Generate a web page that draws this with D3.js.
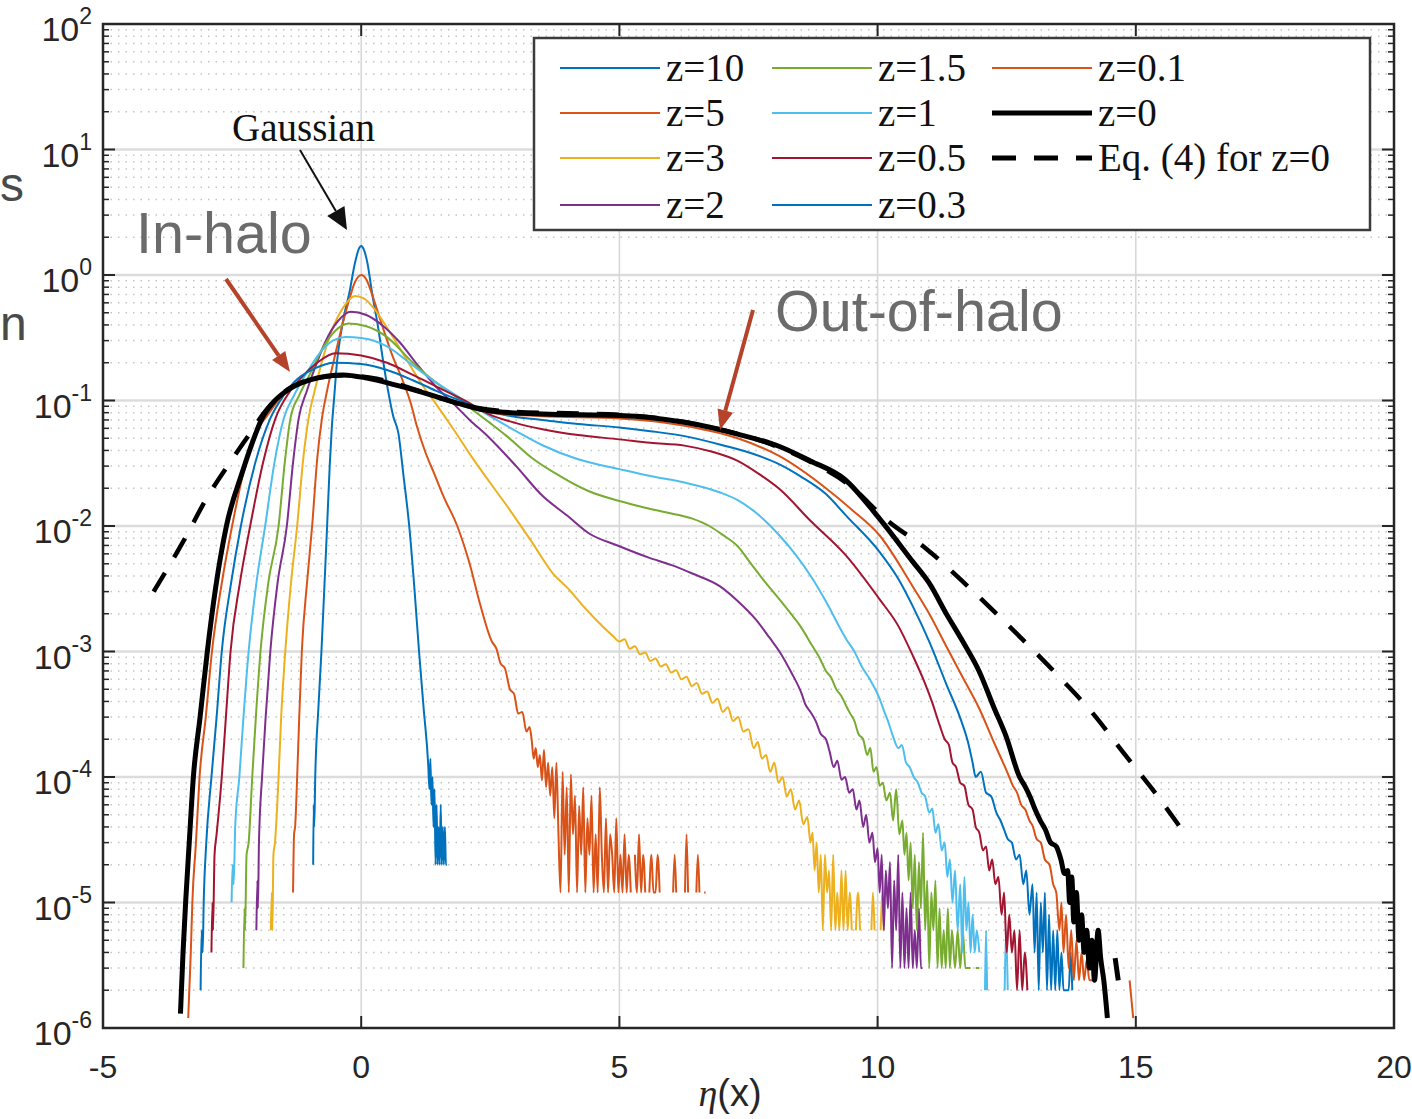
<!DOCTYPE html>
<html><head><meta charset="utf-8">
<script src="https://cdn.jsdelivr.net/npm/d3@7"></script>
<style>body{margin:0;background:#fff;}svg{display:block;}</style>
</head><body>
<svg id="c" width="1412" height="1119"></svg>
<script>
// ---------- data ----------
const xTicks = [-5, 0, 5, 10, 15, 20];
const yExps = [-6, -5, -4, -3, -2, -1, 0, 1, 2];
const legendLabels = ["z=10","z=5","z=3","z=2","z=1.5","z=1","z=0.5","z=0.3","z=0.1","z=0","Eq. (4) for z=0"];

const z10 = [[-0.93,2e-5],[-0.92,6e-5],[-0.91,4e-5],[-0.89,1e-4],[-0.83,3.5e-4],[-0.77,1e-3],[-0.71,3.5e-3],[-0.66,0.01],[-0.61,0.03],[-0.57,0.06],[-0.52,0.11],[-0.47,0.2],[-0.4,0.33],[-0.32,0.5],[-0.23,0.72],[-0.12,1.25],[-0.05,1.6],[0,1.7],[0.05,1.6],[0.12,1.25],[0.21,0.72],[0.32,0.4],[0.43,0.2],[0.52,0.12],[0.62,0.075],[0.72,0.055],[0.82,0.025],[0.93,0.01],[1.03,3.2e-3],[1.12,1e-3],[1.21,3.5e-4],[1.3,1.2e-4],[1.32,8e-5],[1.34,1.4e-4],[1.36,6e-5],[1.38,1e-4],[1.40,4e-5],[1.42,8e-5],[1.44,2e-5],[1.46,6e-5],[1.48,2e-5],[1.50,4e-5],[1.52,2e-5],[1.54,6e-5],[1.56,2e-5],[1.58,4e-5],[1.60,2e-5],[1.62,4e-5],[1.64,2e-5],[1.66,2e-5]];

const z5 = [[-1.32,1.2e-5],[-1.30,3.5e-5],[-1.28,4e-5],[-1.24,1e-4],[-1.2,3e-4],[-1.15,1e-3],[-1.05,3.5e-3],[-0.95,0.01],[-0.85,0.035],[-0.76,0.072],[-0.66,0.12],[-0.54,0.2],[-0.4,0.35],[-0.25,0.6],[-0.12,0.88],[0,1.0],[0.1,0.92],[0.2,0.72],[0.3,0.54],[0.43,0.37],[0.6,0.23],[0.79,0.149],[0.96,0.095],[1.08,0.062],[1.25,0.038],[1.4,0.027],[1.6,0.017],[1.86,0.01],[2.1,5e-3],[2.3,2.4e-3],[2.53,1.2e-3],[2.62,1.05e-3],[2.7,8e-4],[2.78,7.4e-4],[2.88,5e-4],[2.96,4.6e-4],[3.04,3.2e-4],[3.12,3.3e-4],[3.2,2.3e-4],[3.26,2.5e-4],[3.30,2e-4],[3.34,1.4e-4],[3.38,1.7e-4],[3.42,1.2e-4],[3.46,1.5e-4],[3.50,9.4e-5],[3.54,1.65e-4],[3.58,8.3e-5],[3.62,1.3e-4],[3.66,7.1e-5],[3.70,1.2e-4],[3.74,4.7e-5],[3.78,1.3e-4],[3.82,3.5e-5],[3.86,1.2e-5],[3.90,1.1e-4],[3.94,2.4e-5],[3.98,8.3e-5],[4.02,1.2e-5],[4.06,1.05e-4],[4.10,3.5e-5],[4.14,7.1e-5],[4.18,1.2e-5],[4.22,5.9e-5],[4.26,2.4e-5],[4.30,8.3e-5],[4.34,1.2e-5],[4.38,4.7e-5],[4.42,2.4e-5],[4.46,7.1e-5],[4.50,1.2e-5],[4.54,3.5e-5],[4.58,1.2e-5],[4.62,8.3e-5],[4.66,2.4e-5],[4.70,1.2e-5],[4.74,4.7e-5],[4.78,1.2e-5],[4.82,3.5e-5],[4.86,2.4e-5],[4.90,1.2e-5],[4.94,4.7e-5],[4.98,1.2e-5],[5.02,2.4e-5],[5.06,1.2e-5],[5.10,3.5e-5],[5.14,1.2e-5],[5.18,2.4e-5],[5.22,1.2e-5],[5.26,null],[5.30,2.4e-5],[5.34,1.2e-5],[5.38,3.5e-5],[5.42,1.2e-5],[5.46,2.4e-5],[5.50,1.2e-5],[5.54,null],[5.58,1.2e-5],[5.62,2.4e-5],[5.66,1.2e-5],[5.70,1.2e-5],[5.74,2.4e-5],[5.78,1.2e-5],[5.82,null],[6.04,1.2e-5],[6.07,2.4e-5],[6.10,1.2e-5],[6.15,null],[6.27,1.2e-5],[6.30,3.5e-5],[6.33,1.2e-5],[6.40,null],[6.49,1.2e-5],[6.52,2.4e-5],[6.55,1.2e-5],[6.60,null],[6.64,1.2e-5],[6.67,1.2e-5]];

const z3 = [[-1.75,6e-6],[-1.73,1.2e-5],[-1.72,6e-6],[-1.70,2.4e-5],[-1.67,3e-5],[-1.6,1e-4],[-1.55,3e-4],[-1.47,1e-3],[-1.36,3.5e-3],[-1.24,0.01],[-1.12,0.035],[-1.02,0.072],[-0.9,0.12],[-0.78,0.19],[-0.55,0.38],[-0.35,0.55],[-0.12,0.68],[0.05,0.65],[0.25,0.54],[0.5,0.38],[0.75,0.26],[1.0,0.175],[1.2,0.13],[1.44,0.095],[1.8,0.058],[2.13,0.036],[2.5,0.022],[2.82,0.0145],[3.3,7.5e-3],[3.71,4.2e-3],[4.0,3.2e-3],[4.3,2.3e-3],[4.6,1.7e-3],[4.88,1.32e-3],[5.0,1.2e-3],[5.1,1.25e-3],[5.2,1.05e-3],[5.3,1.1e-3],[5.4,9.5e-4],[5.5,9.8e-4],[5.6,8.4e-4],[5.7,8.8e-4],[5.8,7.6e-4],[5.9,7.9e-4],[6.0,6.8e-4],[6.1,7.1e-4],[6.2,6e-4],[6.3,6.3e-4],[6.4,5.3e-4],[6.5,5.6e-4],[6.6,4.6e-4],[6.7,4.8e-4],[6.8,3.9e-4],[6.9,4.2e-4],[7.0,3.3e-4],[7.1,3.6e-4],[7.2,2.8e-4],[7.3,3.0e-4],[7.4,2.3e-4],[7.5,2.4e-4],[7.6,1.7e-4],[7.68,1.9e-4],[7.76,1.4e-4],[7.84,1.5e-4],[7.92,1.1e-4],[8.0,1.3e-4],[8.08,9e-5],[8.16,1e-4],[8.24,7e-5],[8.32,8e-5],[8.40,5.5e-5],[8.48,6.5e-5],[8.56,4.2e-5],[8.64,4.8e-5],[8.70,3e-5],[8.74,3.6e-5],[8.78,1.8e-5],[8.82,3e-5],[8.86,1.2e-5],[8.90,2.4e-5],[8.94,6e-6],[8.98,2.4e-5],[9.02,1.2e-5],[9.06,1.8e-5],[9.10,6e-6],[9.14,2.4e-5],[9.18,6e-6],[9.22,1.2e-5],[9.26,6e-6],[9.30,1.8e-5],[9.34,6e-6],[9.38,1.8e-5],[9.42,6e-6],[9.46,1.2e-5],[9.50,6e-6],[9.54,null],[9.58,6e-6],[9.62,1.2e-5],[9.66,6e-6],[9.7,null],[9.88,6e-6],[9.91,1.2e-5],[9.94,6e-6],[9.98,null],[10.06,6e-6],[10.09,1.2e-5],[10.12,6e-6]];

const z2 = [[-2.03,6e-6],[-2.01,1.5e-5],[-2.0,9e-6],[-1.98,3e-5],[-1.92,1e-4],[-1.85,3e-4],[-1.76,1e-3],[-1.62,3.5e-3],[-1.44,0.01],[-1.32,0.032],[-1.21,0.072],[-1.05,0.12],[-0.9,0.18],[-0.7,0.29],[-0.45,0.43],[-0.2,0.51],[0.1,0.48],[0.4,0.4],[0.75,0.29],[1.1,0.19],[1.44,0.13],[1.79,0.094],[2.1,0.07],[2.47,0.051],[3.0,0.03],[3.51,0.0174],[4.0,0.012],[4.4,8.8e-3],[5.0,6.9e-3],[5.57,5.6e-3],[6.0,4.9e-3],[6.4,4.2e-3],[6.95,3.3e-3],[7.3,2.5e-3],[7.64,1.8e-3],[7.9,1.3e-3],[8.12,9.7e-4],[8.33,6.8e-4],[8.53,4.6e-4],[8.6,3.8e-4],[8.7,3.3e-4],[8.8,2.8e-4],[8.9,2.2e-4],[9.0,2e-4],[9.07,1.6e-4],[9.15,1.2e-4],[9.22,1.35e-4],[9.3,9.5e-5],[9.37,1e-4],[9.45,7.5e-5],[9.52,8e-5],[9.59,5.5e-5],[9.65,6.5e-5],[9.72,4e-5],[9.78,5e-5],[9.84,3e-5],[9.90,3.6e-5],[9.95,2.1e-5],[10.0,2.7e-5],[10.04,1.2e-5],[10.08,2.4e-5],[10.12,6e-6],[10.16,1.8e-5],[10.2,9e-6],[10.24,2.1e-5],[10.28,3e-6],[10.32,1.5e-5],[10.36,6e-6],[10.4,2.4e-5],[10.44,3e-6],[10.48,1.2e-5],[10.52,3e-6],[10.56,9e-6],[10.6,3e-6],[10.64,1.2e-5],[10.68,3e-6],[10.72,6e-6],[10.76,3e-6],[10.8,9e-6],[10.84,3e-6],[10.87,3e-6]];

const z15 = [[-2.28,3e-6],[-2.26,9e-6],[-2.25,6e-6],[-2.22,2.4e-5],[-2.18,3e-5],[-2.11,1e-4],[-2.04,3e-4],[-1.95,1e-3],[-1.8,3.5e-3],[-1.6,0.01],[-1.48,0.032],[-1.37,0.072],[-1.2,0.11],[-1.0,0.16],[-0.75,0.26],[-0.5,0.36],[-0.24,0.41],[0.1,0.39],[0.5,0.32],[1.0,0.2],[1.44,0.14],[1.8,0.11],[2.13,0.086],[2.5,0.066],[2.82,0.052],[3.3,0.035],[3.85,0.025],[4.4,0.019],[5.0,0.0158],[5.5,0.014],[5.92,0.0128],[6.4,0.0115],[6.74,0.01],[7.0,8.5e-3],[7.29,6.9e-3],[7.55,5e-3],[7.84,3.5e-3],[8.1,2.6e-3],[8.32,2e-3],[8.5,1.6e-3],[8.74,1.1e-3],[8.87,9e-4],[9.0,7e-4],[9.1,6.2e-4],[9.2,5e-4],[9.3,4.4e-4],[9.39,3.7e-4],[9.47,3.2e-4],[9.55,2.8e-4],[9.63,2.2e-4],[9.72,2e-4],[9.8,1.5e-4],[9.86,1.7e-4],[9.92,1.1e-4],[9.98,1.2e-4],[10.04,8.5e-5],[10.1,9e-5],[10.17,6.5e-5],[10.24,7.5e-5],[10.3,4.5e-5],[10.36,8e-5],[10.42,3.5e-5],[10.48,4.5e-5],[10.52,2.4e-5],[10.56,3.6e-5],[10.6,1.5e-5],[10.64,3e-5],[10.68,9e-6],[10.72,2.4e-5],[10.76,6e-6],[10.8,2.1e-5],[10.84,9e-6],[10.88,3.6e-5],[10.92,6e-6],[10.96,1.5e-5],[11.0,3e-6],[11.04,1.2e-5],[11.08,6e-6],[11.12,1.5e-5],[11.16,3e-6],[11.2,9e-6],[11.24,3e-6],[11.28,6e-6],[11.32,3e-6],[11.36,9e-6],[11.4,3e-6],[11.44,6e-6],[11.5,3e-6],[11.55,6e-6],[11.6,3e-6],[11.65,6e-6],[11.7,3e-6],[11.8,3e-6],[11.85,null],[11.9,3e-6],[11.97,3e-6]];

const z1 = [[-2.51,1e-5],[-2.49,2e-5],[-2.47,1.4e-5],[-2.44,4e-5],[-2.36,1e-4],[-2.28,3e-4],[-2.18,1e-3],[-2.03,3.5e-3],[-1.86,0.01],[-1.68,0.032],[-1.5,0.072],[-1.3,0.11],[-1.1,0.155],[-0.8,0.24],[-0.55,0.3],[-0.3,0.32],[0,0.315],[0.5,0.27],[1.0,0.19],[1.44,0.14],[2.0,0.1],[2.47,0.076],[3.0,0.057],[3.51,0.044],[4.2,0.034],[5.0,0.0284],[5.6,0.025],[6.26,0.0222],[6.95,0.0185],[7.3,0.016],[7.64,0.0128],[8.1,8.4e-3],[8.4,6e-3],[8.74,3.8e-3],[9.0,2.5e-3],[9.39,1.26e-3],[9.55,1e-3],[9.7,7.5e-4],[9.85,6e-4],[10.04,4.2e-4],[10.12,3.4e-4],[10.2,2.8e-4],[10.3,2.1e-4],[10.4,1.7e-4],[10.47,1.8e-4],[10.55,1.3e-4],[10.62,1.2e-4],[10.7,1e-4],[10.78,9e-5],[10.85,7.5e-5],[10.92,7e-5],[11.0,5.2e-5],[11.06,5.6e-5],[11.12,3.6e-5],[11.18,4.2e-5],[11.24,2.6e-5],[11.3,3e-5],[11.35,1.6e-5],[11.4,2.2e-5],[11.45,1e-5],[11.5,1.8e-5],[11.55,6e-6],[11.6,1.4e-5],[11.64,4e-6],[11.68,1.6e-5],[11.72,6e-6],[11.76,1e-5],[11.8,4e-6],[11.84,8e-6],[11.88,4e-6],[11.92,6e-6],[11.97,4e-6],[12.02,null],[12.08,2e-6],[12.1,6e-6],[12.12,2e-6],[12.2,null],[12.46,2e-6],[12.49,6e-6],[12.52,2e-6]];

const z05 = [[-2.9,4e-6],[-2.88,1e-5],[-2.87,6e-6],[-2.84,2.4e-5],[-2.8,3.5e-5],[-2.7,1e-4],[-2.62,3e-4],[-2.53,1e-3],[-2.35,3.5e-3],[-2.15,0.01],[-1.9,0.032],[-1.66,0.072],[-1.4,0.115],[-1.2,0.146],[-0.85,0.2],[-0.5,0.238],[0,0.228],[0.5,0.2],[1.0,0.16],[1.44,0.13],[2.0,0.1],[2.47,0.078],[3.0,0.066],[3.51,0.059],[4.2,0.053],[5.0,0.049],[5.6,0.046],[6.26,0.0437],[6.8,0.039],[7.29,0.033],[7.7,0.026],[8.1,0.0197],[8.7,0.011],[9.39,5.8e-3],[10.04,2.6e-3],[10.4,1.6e-3],[10.68,9.3e-4],[10.9,5.8e-4],[11.05,4e-4],[11.2,2.6e-4],[11.3,2e-4],[11.38,1.8e-4],[11.45,1.3e-4],[11.52,1.2e-4],[11.6,9e-5],[11.68,8.5e-5],[11.76,6e-5],[11.84,5.5e-5],[11.9,4e-5],[11.97,3.6e-5],[12.04,2.6e-5],[12.1,2.8e-5],[12.16,1.8e-5],[12.22,2.2e-5],[12.28,1.4e-5],[12.34,1.6e-5],[12.4,8e-6],[12.45,1.2e-5],[12.5,4e-6],[12.55,8e-6],[12.6,4e-6],[12.65,6e-6],[12.7,2e-6],[12.75,6e-6],[12.8,2e-6],[12.85,4e-6],[12.9,2e-6]];

const z03 = [[-3.11,2e-6],[-3.09,6e-6],[-3.07,4e-6],[-3.05,1e-5],[-3.0,3e-5],[-2.9,1e-4],[-2.8,3e-4],[-2.7,1e-3],[-2.52,3.5e-3],[-2.33,0.01],[-2.05,0.032],[-1.76,0.072],[-1.5,0.11],[-1.3,0.14],[-0.9,0.18],[-0.52,0.2],[0,0.195],[0.5,0.175],[1.0,0.145],[1.44,0.12],[2.0,0.097],[2.47,0.082],[3.0,0.074],[3.51,0.07],[4.2,0.065],[5.0,0.061],[5.6,0.057],[6.26,0.052],[7.0,0.044],[7.64,0.037],[8.1,0.031],[8.5,0.025],[9.0,0.018],[9.39,0.0121],[10.04,6.2e-3],[10.4,3.8e-3],[10.68,2.3e-3],[11.0,1.2e-3],[11.33,5.5e-4],[11.62,2.8e-4],[11.75,1.9e-4],[11.84,1.3e-4],[11.9,1e-4],[12.0,1.1e-4],[12.1,7.5e-5],[12.2,7e-5],[12.3,5.2e-5],[12.38,4.5e-5],[12.45,3.8e-5],[12.52,3.2e-5],[12.6,3e-5],[12.68,2.2e-5],[12.75,2.4e-5],[12.82,1.4e-5],[12.88,1.8e-5],[12.94,8e-6],[13.0,1.4e-5],[13.04,4e-6],[13.08,1.2e-5],[13.12,2e-6],[13.16,1e-5],[13.2,4e-6],[13.24,1.2e-5],[13.28,2e-6],[13.32,8e-6],[13.36,2e-6],[13.4,6e-6],[13.44,2e-6],[13.48,6e-6],[13.52,2e-6],[13.56,4e-6],[13.6,2e-6],[13.65,2e-6],[13.7,2e-6],[13.74,4e-6],[13.77,2e-6]];

const z01 = [[-3.35,1.2e-6],[-3.3,4e-6],[-3.27,1e-5],[-3.2,3e-5],[-3.13,1e-4],[-3.01,3e-4],[-2.89,1e-3],[-2.7,3.5e-3],[-2.5,0.01],[-2.25,0.03],[-2.0,0.06],[-1.86,0.072],[-1.5,0.113],[-1.0,0.145],[-0.35,0.158],[0.11,0.15],[0.75,0.128],[1.44,0.106],[2.0,0.09],[2.5,0.08],[3.5,0.075],[5.0,0.072],[6.26,0.063],[7.29,0.05],[8.1,0.036],[9.0,0.02],[9.5,0.0135],[10.04,8.4e-3],[10.68,3.3e-3],[11.0,2e-3],[11.33,1.1e-3],[11.65,6.2e-4],[11.97,3.5e-4],[12.25,1.9e-4],[12.55,1e-4],[12.62,8.5e-5],[12.7,7.5e-5],[12.78,6e-5],[12.86,5.5e-5],[12.94,4.5e-5],[13.0,4.1e-5],[13.08,3.2e-5],[13.16,3e-5],[13.24,2.2e-5],[13.33,2e-5],[13.4,1.4e-5],[13.46,1.2e-5],[13.52,6e-6],[13.56,1e-5],[13.6,4e-6],[13.65,8e-6],[13.7,3e-6],[13.75,6e-6],[13.8,2.4e-6],[13.85,5e-6],[13.9,2.4e-6],[13.95,4e-6],[14.0,2.4e-6],[14.05,3.5e-6],[14.1,2.4e-6],[14.2,2.4e-6],[14.3,null],[14.88,2.4e-6],[14.95,1.2e-6]];

const z0 = [[-3.5,1.3e-6],[-3.45,4e-6],[-3.4,1e-5],[-3.33,3e-5],[-3.25,1e-4],[-3.12,3e-4],[-2.98,1e-3],[-2.82,3.2e-3],[-2.61,0.01],[-2.3,0.027],[-2.11,0.046],[-1.92,0.072],[-1.7,0.097],[-1.5,0.115],[-0.99,0.146],[-0.35,0.16],[0.11,0.151],[0.75,0.13],[1.44,0.108],[2.0,0.092],[2.47,0.083],[3.51,0.078],[5.0,0.076],[6.26,0.067],[7.29,0.054],[8.1,0.043],[8.7,0.033],[9.36,0.0236],[10.04,0.0114],[10.68,5.2e-3],[11.0,3.5e-3],[11.33,2.0e-3],[11.65,1.2e-3],[11.97,6.9e-4],[12.25,3.6e-4],[12.49,2.1e-4],[12.75,1e-4],[12.85,8.5e-5],[12.95,7e-5],[13.05,5.5e-5],[13.15,4.5e-5],[13.25,3.8e-5],[13.35,3e-5],[13.46,2.8e-5],[13.55,2.2e-5],[13.62,1.7e-5],[13.68,1.8e-5],[13.72,1e-5],[13.76,1.6e-5],[13.8,7e-6],[13.85,1.2e-5],[13.9,5e-6],[13.95,8e-6],[14.0,4e-6],[14.05,6e-6],[14.1,3e-6],[14.15,5e-6],[14.2,2.4e-6],[14.27,6e-6],[14.32,3.6e-6],[14.38,2.4e-6],[14.45,1.2e-6],[14.5,null],[14.6,3.6e-6],[14.66,2.4e-6]];

const eq4 = [[-4.02,3.0e-3],[-3.44,7.6e-3],[-2.98,0.017],[-2.5,0.034],[-2.15,0.055],[-1.9,0.078],[-1.5,0.116],[-1.0,0.146],[-0.35,0.159],[0.3,0.149],[1.0,0.124],[1.6,0.102],[2.2,0.088],[3.0,0.081],[4.0,0.079],[5.0,0.077],[6.0,0.07],[7.0,0.058],[7.8,0.047],[8.6,0.034],[9.4,0.022],[10.23,0.0107],[10.94,6.6e-3],[11.62,3.7e-3],[12.3,2.0e-3],[12.94,1.1e-3],[13.58,5.9e-4],[14.2,3.1e-4],[14.74,1.6e-4],[15.32,8e-5],[16.0,3.3e-5]];

const seriesData = [z10, z5, z3, z2, z15, z1, z05, z03, z01, z0, eq4];
const seriesColors = ["#0072BD","#D95319","#EDB120","#7E2F8E","#77AC30","#4DBEEE","#A2142F","#0072BD","#D95319","#000000","#000000"];

// ---------- drawing ----------
const svg = d3.select("#c");
const L = 103, R = 1394, T = 24, B = 1028;
const x = d3.scaleLinear().domain([-5, 20]).range([L, R]);
const y = d3.scaleLog().domain([1e-6, 1e2]).range([B, T]);
const axisCol = "#262626";

svg.append("rect").attr("x", L).attr("y", T).attr("width", R - L).attr("height", B - T).attr("fill", "#fff");

// minor grid (horizontal)
const minorVals = [];
for (let e = -6; e < 2; e++) for (let k = 2; k <= 9; k++) minorVals.push(k * Math.pow(10, e));
const grid = svg.append("g");
grid.selectAll(".mg").data(minorVals).enter().append("line")
  .attr("x1", L).attr("x2", R).attr("y1", d => y(d)).attr("y2", d => y(d))
  .attr("stroke", "#c4c4c4").attr("stroke-width", 1.5).attr("stroke-dasharray", "1.5,6");
// major grid
grid.selectAll(".Mg").data(yExps.slice(1, -1)).enter().append("line")
  .attr("x1", L).attr("x2", R).attr("y1", d => y(Math.pow(10, d))).attr("y2", d => y(Math.pow(10, d)))
  .attr("stroke", "#dcdcdc").attr("stroke-width", 2.5);
grid.selectAll(".Vg").data(xTicks.slice(1, -1)).enter().append("line")
  .attr("y1", T).attr("y2", B).attr("x1", d => x(d)).attr("x2", d => x(d))
  .attr("stroke", "#d6d6d6").attr("stroke-width", 1.5);

// clip
svg.append("clipPath").attr("id", "clip").append("rect").attr("x", L).attr("y", T).attr("width", R - L).attr("height", B - T);
const plot = svg.append("g").attr("clip-path", "url(#clip)");
const line = d3.line().defined(d => d[1] != null).x(d => x(d[0])).y(d => y(d[1])).curve(d3.curveMonotoneX);

seriesData.forEach((s, i) => {
  const p = plot.append("path").attr("d", line(s)).attr("fill", "none")
    .attr("stroke", seriesColors[i]).attr("stroke-linejoin", "round");
  if (i < 9) p.attr("stroke-width", 2);
  else if (i === 9) p.attr("stroke-width", 5);
  else p.attr("stroke-width", 4.5).attr("stroke-dasharray", "22,18");
});

// axes box
svg.append("rect").attr("x", L).attr("y", T).attr("width", R - L).attr("height", B - T)
  .attr("fill", "none").attr("stroke", axisCol).attr("stroke-width", 2.5);

// ticks
const tk = svg.append("g").attr("stroke", axisCol);
yExps.forEach(e => {
  const yy = y(Math.pow(10, e));
  tk.append("line").attr("x1", L).attr("x2", L + 12).attr("y1", yy).attr("y2", yy).attr("stroke-width", 2);
  tk.append("line").attr("x1", R).attr("x2", R - 12).attr("y1", yy).attr("y2", yy).attr("stroke-width", 2);
});
minorVals.forEach(v => {
  const yy = y(v);
  tk.append("line").attr("x1", L).attr("x2", L + 6).attr("y1", yy).attr("y2", yy).attr("stroke-width", 1.5);
  tk.append("line").attr("x1", R).attr("x2", R - 6).attr("y1", yy).attr("y2", yy).attr("stroke-width", 1.5);
});
xTicks.forEach(t => {
  const xx = x(t);
  tk.append("line").attr("x1", xx).attr("x2", xx).attr("y1", B).attr("y2", B - 12).attr("stroke-width", 2);
  tk.append("line").attr("x1", xx).attr("x2", xx).attr("y1", T).attr("y2", T + 12).attr("stroke-width", 2);
});

// tick labels
const sans = "'Liberation Sans', Arial, sans-serif";
const serif = "'Liberation Serif', 'Times New Roman', serif";
yExps.forEach(e => {
  const t = svg.append("text").attr("x", 92).attr("y", y(Math.pow(10, e)) + 17)
    .attr("text-anchor", "end").attr("font-family", sans).attr("font-size", 34).attr("fill", axisCol)
    .text("10");
  t.append("tspan").attr("dy", -17).attr("font-size", 23).text(String(e));
});
xTicks.forEach(t => {
  svg.append("text").attr("x", x(t)).attr("y", 1078).attr("text-anchor", "middle")
    .attr("font-family", sans).attr("font-size", 32).attr("fill", axisCol).text(String(t));
});
// x-axis label
const xl = svg.append("text").attr("x", 730).attr("y", 1106).attr("text-anchor", "middle")
  .attr("font-size", 38).attr("fill", axisCol);
xl.append("tspan").attr("font-family", serif).attr("font-style", "italic").text("η");
xl.append("tspan").attr("font-family", sans).text("(x)");

// partial letters at the left edge (as in the reference)
svg.append("text").attr("x", 0).attr("y", 201).attr("font-family", sans).attr("font-size", 48).attr("fill", "#4a4a4a").text("s");
svg.append("text").attr("x", 0).attr("y", 340).attr("font-family", sans).attr("font-size", 48).attr("fill", "#4a4a4a").text("n");

// annotations
svg.append("text").attr("x", 136).attr("y", 253).attr("font-family", sans).attr("font-size", 57.5).attr("fill", "#6b6b6b").text("In-halo");
svg.append("text").attr("x", 775).attr("y", 331).attr("font-family", sans).attr("font-size", 57.5).attr("fill", "#6b6b6b").text("Out-of-halo");
svg.append("text").attr("x", 232).attr("y", 141).attr("font-family", serif).attr("font-size", 39).attr("fill", "#111").text("Gaussian");

function arrow(x1, y1, x2, y2, col, w, hl, hw) {
  const len = Math.hypot(x2 - x1, y2 - y1);
  svg.append("line").attr("x1", x1).attr("y1", y1).attr("x2", x2 - (x2 - x1) * hl / len)
    .attr("y2", y2 - (y2 - y1) * hl / len).attr("stroke", col).attr("stroke-width", w);
  const a = Math.atan2(y2 - y1, x2 - x1);
  const bx = x2 - hl * Math.cos(a), by = y2 - hl * Math.sin(a);
  const px = -Math.sin(a) * hw / 2, py = Math.cos(a) * hw / 2;
  svg.append("polygon").attr("points", `${x2},${y2} ${bx + px},${by + py} ${bx - px},${by - py}`).attr("fill", col);
}
arrow(300, 150, 347, 230, "#111", 2, 22, 20);
arrow(226, 279, 290, 372, "#b4432a", 4, 20, 16);
arrow(753, 310, 720, 430, "#b4432a", 4, 20, 16);

// legend
const lg = svg.append("g");
lg.append("rect").attr("x", 534).attr("y", 38).attr("width", 836).attr("height", 192)
  .attr("fill", "#fff").attr("stroke", "#3c3c3c").attr("stroke-width", 2.5);
const colX = [560, 772, 992];
const rowY = [68, 113, 158, 205];
const slots = [[0,0],[0,1],[0,2],[0,3],[1,0],[1,1],[1,2],[1,3],[2,0],[2,1],[2,2]];
slots.forEach(([c, r], i) => {
  const lx = colX[c], ly = rowY[r];
  const ln = lg.append("line").attr("x1", lx).attr("x2", lx + 100).attr("y1", ly).attr("y2", ly)
    .attr("stroke", seriesColors[i]);
  if (i < 9) ln.attr("stroke-width", 2);
  else if (i === 9) ln.attr("stroke-width", 5);
  else ln.attr("stroke-width", 5).attr("stroke-dasharray", "24,18");
  lg.append("text").attr("x", lx + 106).attr("y", ly + 13).attr("font-family", serif)
    .attr("font-size", 39).attr("fill", "#111").text(legendLabels[i]);
});
</script>
</body></html>
